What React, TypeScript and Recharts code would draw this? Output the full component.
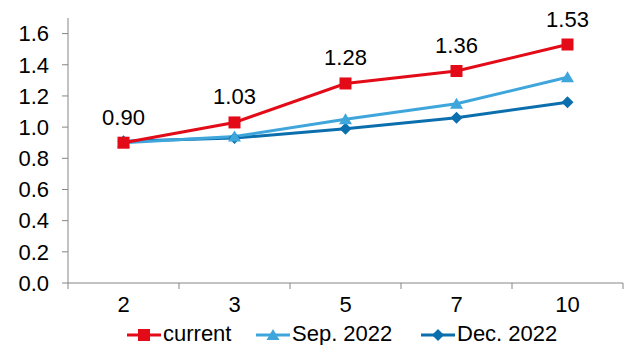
import React from "react";
import { LineChart, Line, XAxis, YAxis, LabelList } from "recharts";

const maturities = ["2", "3", "5", "7", "10"];
const current = [0.9, 1.03, 1.28, 1.36, 1.53];
const sep2022 = [0.9, 0.94, 1.05, 1.15, 1.32];
const dec2022 = [0.91, 0.93, 0.99, 1.06, 1.16];
const yTicks = [0, 0.2, 0.4, 0.6, 0.8, 1.0, 1.2, 1.4, 1.6];

const RED = "#e30b17";
const LIGHT = "#3fa6dc";
const DARK = "#0b6fae";
const AXIS = "#868686";
const FONT = "'Liberation Sans', Arial, sans-serif";
const FS = 22;

const data = maturities.map((m, i) => ({
  i,
  label: m,
  current: current[i],
  sep: sep2022[i],
  dec: dec2022[i],
}));

// ticks at category centres (labels) and boundaries (tick marks)
const xTicks: number[] = [];
for (let k = -0.5; k <= maturities.length - 0.5; k += 0.5) xTicks.push(k);

const XTick = (props: any) => {
  const { x, y, payload } = props;
  const v = payload.value as number;
  if (Number.isInteger(v)) {
    return (
      <text x={x} y={y + 29} textAnchor="middle" fontSize={FS} fontFamily={FONT} fill="#000">
        {maturities[v]}
      </text>
    );
  }
  return <line x1={x} x2={x} y1={y} y2={y + 6} stroke={AXIS} strokeWidth={1} />;
};

const SquareDot = (props: any) => {
  const { cx, cy } = props;
  return <rect x={cx - 6} y={cy - 6} width={12} height={12} fill={RED} />;
};
const TriangleDot = (props: any) => {
  const { cx, cy } = props;
  return <path d={`M${cx},${cy - 6} L${cx + 6.5},${cy + 5} L${cx - 6.5},${cy + 5} Z`} fill={LIGHT} />;
};
const DiamondDot = (props: any) => {
  const { cx, cy } = props;
  return <path d={`M${cx},${cy - 6} L${cx + 6},${cy} L${cx},${cy + 6} L${cx - 6},${cy} Z`} fill={DARK} />;
};

const legendItems = [
  { name: "current", color: RED, x: 127, marker: "square" },
  { name: "Sep. 2022", color: LIGHT, x: 256, marker: "triangle" },
  { name: "Dec. 2022", color: DARK, x: 421, marker: "diamond" },
];

function LegendSvg() {
  const ly = 335;
  return (
    <svg width={625} height={345} style={{ position: "absolute", left: 0, top: 0, pointerEvents: "none" }}>
      {legendItems.map((it) => {
        const cx = it.x + 17;
        let marker = null;
        if (it.marker === "square") marker = <rect x={cx - 6} y={ly - 6} width={12} height={12} fill={it.color} />;
        if (it.marker === "triangle")
          marker = <path d={`M${cx},${ly - 6} L${cx + 6.5},${ly + 5} L${cx - 6.5},${ly + 5} Z`} fill={it.color} />;
        if (it.marker === "diamond")
          marker = <path d={`M${cx},${ly - 6} L${cx + 6},${ly} L${cx},${ly + 6} L${cx - 6},${ly} Z`} fill={it.color} />;
        return (
          <g key={it.name}>
            <line x1={it.x} x2={it.x + 34} y1={ly} y2={ly} stroke={it.color} strokeWidth={3} />
            {marker}
            <text x={it.x + 36} y={ly + 6} fontSize={FS} fontFamily={FONT} fill="#000">
              {it.name}
            </text>
          </g>
        );
      })}
    </svg>
  );
}

export default function App() {
  return (
    <div style={{ position: "fixed", left: 0, top: 0, width: 625, height: 345, background: "#fff" }}>
      <LineChart width={625} height={345} data={data} margin={{ top: 18, right: 2, left: 8, bottom: 0 }}>
        <XAxis
          dataKey="i"
          type="number"
          domain={[-0.5, maturities.length - 0.5]}
          ticks={xTicks}
          interval={0}
          tick={<XTick />}
          tickLine={false}
          tickSize={0}
          tickMargin={0}
          height={62}
          stroke={AXIS}
          axisLine={{ stroke: AXIS, strokeWidth: 1 }}
        />
        <YAxis
          type="number"
          domain={[0, 1.7]}
          ticks={yTicks}
          interval={0}
          width={60}
          tickSize={6}
          tickMargin={13}
          tickFormatter={(v: number) => v.toFixed(1)}
          tick={{ fontSize: FS, fontFamily: FONT, fill: "#000" }}
          tickLine={{ stroke: AXIS }}
          axisLine={{ stroke: AXIS, strokeWidth: 1 }}
        />
        <Line
          dataKey="dec"
          stroke={DARK}
          strokeWidth={3}
          dot={<DiamondDot />}
          isAnimationActive={false}
        />
        <Line
          dataKey="sep"
          stroke={LIGHT}
          strokeWidth={3}
          dot={<TriangleDot />}
          isAnimationActive={false}
        />
        <Line
          dataKey="current"
          stroke={RED}
          strokeWidth={3}
          dot={<SquareDot />}
          isAnimationActive={false}
        >
          <LabelList
            dataKey="current"
            position="top"
            offset={18}
            formatter={(v: any) => Number(v).toFixed(2)}
            style={{ fontSize: FS, fontFamily: FONT, fill: "#000" }}
          />
        </Line>
      </LineChart>
      <LegendSvg />
    </div>
  );
}
